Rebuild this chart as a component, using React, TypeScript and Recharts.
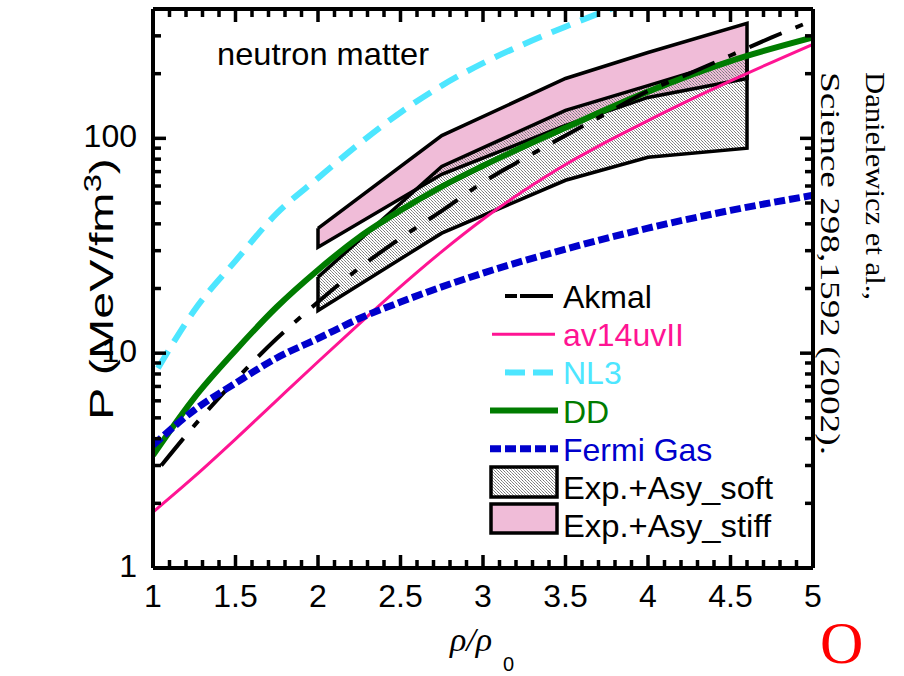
import { ComposedChart, Line, Area, XAxis, YAxis } from 'recharts'

const SANS = '"Liberation Sans", Arial, Helvetica, sans-serif'
const SERIF = '"Liberation Serif", "Times New Roman", serif'

// pressure P (MeV/fm^3) vs rho/rho0
const akmalX = [1.05, 1.25, 1.5, 1.75, 2, 2.25, 2.5, 2.75, 3, 3.25, 3.5, 3.75, 4, 4.25, 4.5, 4.75, 5]
const akmalP = [3.0, 4.6, 7.5, 11.7, 17.3, 24.9, 34.3, 46, 62.4, 80.7, 103, 131, 166, 200, 243, 295, 354]

const av14X = [1, 1.25, 1.5, 1.75, 2, 2.25, 2.5, 2.75, 3, 3.5, 4, 4.5, 5]
const av14P = [1.82, 2.66, 3.98, 6.03, 9.12, 13.7, 20.4, 29.7, 42.0, 75.5, 121, 185, 274]

const nl3X = [1.03, 1.25, 1.5, 1.75, 2, 2.25, 2.5, 2.75, 3, 3.25, 3.5, 3.75, 4]
const nl3P = [8.5, 15.8, 26.9, 44.7, 65.3, 94.4, 132, 176, 224, 275, 331, 394, 462]

const ddX = [1, 1.25, 1.5, 1.75, 2, 2.25, 2.5, 2.75, 3, 3.5, 4, 4.5, 5]
const ddP = [3.35, 6.2, 10.3, 16.4, 24.4, 34.7, 46.2, 59.6, 74.5, 112, 165, 229, 295]

const fermiX = [1, 1.25, 1.5, 1.75, 2, 2.25, 2.5, 3, 3.5, 4, 4.5, 5]
const fermiP = [3.73, 5.43, 7.25, 9.5, 11.7, 14.5, 17.3, 23.6, 30.5, 38.2, 46.2, 54.3]

// flow constraint bands (Danielewicz et al.)
const bandX = [2, 2.75, 3.5, 4, 4.6]
const softLo = [15.8, 36.2, 63.8, 81.6, 90]
const softHi = [22.6, 74, 135, 176, 243]
const stiffLo = [31.1, 68, 115, 155, 190]
const stiffHi = [38.1, 103, 190, 251, 343]

const X_MIN = 1
const X_MAX = 5
const P_MIN = 1
const P_MAX = 400
const xMajor = [1, 1.5, 2, 2.5, 3, 3.5, 4, 4.5, 5]
const xMinor = [
  1.1, 1.2, 1.3, 1.4, 1.6, 1.7, 1.8, 1.9, 2.1, 2.2, 2.3, 2.4, 2.6, 2.7, 2.8, 2.9,
  3.1, 3.2, 3.3, 3.4, 3.6, 3.7, 3.8, 3.9, 4.1, 4.2, 4.3, 4.4, 4.6, 4.7, 4.8, 4.9,
]
const yMajor = [1, 10, 100]
const yMinor = [2, 3, 4, 5, 6, 7, 8, 9, 20, 30, 40, 50, 60, 70, 80, 90, 200, 300]

const W = 904
const H = 676
const PLOT = { left: 153, top: 9, right: 813, bottom: 568 }

const COLORS = {
  akmal: '#000000',
  av14: '#ff1493',
  nl3: '#4de6ff',
  dd: '#007c00',
  fermi: '#0000cc',
  stiff: '#f0bcd8',
}

const zip = (xs: number[], ys: number[]) => xs.map((x, i) => ({ x, p: ys[i] }))
const bandFill = (lo: number[], hi: number[]) => bandX.map((x, i) => ({ x, range: [lo[i], hi[i]] }))
const bandEdge = (lo: number[], hi: number[]) => [
  ...zip(bandX, hi),
  ...zip(bandX, lo).reverse(),
  { x: bandX[0], p: hi[0] },
]

// same mapping as the chart axes, used for the inward tick marks on the frame
const sx = (v: number) => PLOT.left + ((v - X_MIN) / (X_MAX - X_MIN)) * (PLOT.right - PLOT.left)
const sy = (v: number) =>
  PLOT.bottom - (Math.log10(v / P_MIN) / Math.log10(P_MAX / P_MIN)) * (PLOT.bottom - PLOT.top)

function xLabel(p: any) {
  return (
    <text x={p.x} y={Number(p.y) + 39} textAnchor="middle" fontSize={32} fontFamily={SANS} fill="#000">
      {p.payload.value}
    </text>
  )
}

function yLabel(p: any) {
  return (
    <text x={Number(p.x) - 16} y={Number(p.y) + 9} textAnchor="end" fontSize={32} fontFamily={SANS} fill="#000">
      {p.payload.value}
    </text>
  )
}

function FrameTicks() {
  const t = 3.5
  const marks: any[] = []
  const xt = (v: number, len: number) => {
    const x = sx(v) - t / 2
    marks.push(<rect key={`b${v}`} x={x} y={PLOT.bottom - len} width={t} height={len} />)
    marks.push(<rect key={`t${v}`} x={x} y={PLOT.top} width={t} height={len} />)
  }
  const yt = (v: number, len: number) => {
    const y = sy(v) - t / 2
    marks.push(<rect key={`l${v}`} x={PLOT.left} y={y} width={len} height={t} />)
    marks.push(<rect key={`r${v}`} x={PLOT.right - len} y={y} width={len} height={t} />)
  }
  xMajor.forEach((v) => xt(v, 13))
  xMinor.forEach((v) => xt(v, 8))
  yMajor.forEach((v) => yt(v, 13))
  yMinor.forEach((v) => yt(v, 8))
  return <g fill="#000">{marks}</g>
}

const legendRows = [
  { name: 'Akmal', color: COLORS.akmal, dash: '12 3 33', width: 4, x1: 505, x2: 553 },
  { name: 'av14uvII', color: COLORS.av14, dash: undefined, width: 3, x1: 492, x2: 555 },
  { name: 'NL3', color: COLORS.nl3, dash: '20 8', width: 6, x1: 505, x2: 555 },
  { name: 'DD', color: COLORS.dd, dash: undefined, width: 6, x1: 490, x2: 558 },
  { name: 'Fermi Gas', color: COLORS.fermi, dash: '11 4', width: 7, x1: 490, x2: 558 },
]

function Overlay() {
  return (
    <svg
      width={W}
      height={H}
      style={{ position: 'absolute', left: 0, top: 0, pointerEvents: 'none' }}
      fontFamily={SANS}
    >
      <defs>
        <pattern id="hatchLegend" width="3" height="3" patternUnits="userSpaceOnUse">
          <rect width="3" height="3" fill="#fff" />
          <rect x="0" y="0" width="1" height="1" fill="#777" />
          <rect x="1" y="1" width="1" height="1" fill="#999" />
          <rect x="2" y="2" width="1" height="1" fill="#888" />
        </pattern>
      </defs>
      <FrameTicks />
      <text x={217} y={65} fontSize={32} textLength={212} lengthAdjust="spacingAndGlyphs">neutron matter</text>
      <text
        transform="translate(113 289) rotate(-90)"
        textAnchor="middle"
        fontSize={34}
        textLength={262}
        lengthAdjust="spacingAndGlyphs"
      >
        P (MeV/fm<tspan dy={-12} fontSize={23}>3</tspan>
        <tspan dy={12}>)</tspan>
      </text>
      <text x={450} y={651} fontFamily={SERIF} fontStyle="italic" fontSize={34}>ρ/ρ</text>
      <text x={503} y={671} fontSize={20}>0</text>

      {legendRows.map((r, i) => {
        const base = 308 + i * 38.2
        return (
          <g key={r.name}>
            <line x1={r.x1} x2={r.x2} y1={base - 12} y2={base - 12} stroke={r.color} strokeWidth={r.width} strokeDasharray={r.dash} />
            <text x={563} y={base} fontSize={32} fill={r.color}>{r.name}</text>
          </g>
        )
      })}
      <rect x={491} y={467} width={66} height={30} fill="url(#hatchLegend)" stroke="#000" strokeWidth={3.5} />
      <text x={563} y={499} fontSize={32} textLength={210} lengthAdjust="spacingAndGlyphs">Exp.+Asy_soft</text>
      <rect x={491} y={504} width={66} height={29} fill={COLORS.stiff} stroke="#000" strokeWidth={3.5} />
      <text x={563} y={537} fontSize={32} textLength={208} lengthAdjust="spacingAndGlyphs">Exp.+Asy_stiff</text>

      <text transform="translate(866 72) rotate(90)" fontFamily={SERIF} fontSize={28} textLength={228} lengthAdjust="spacingAndGlyphs">
        Danielewicz et al.,
      </text>
      <text transform="translate(821 72) rotate(90)" fontFamily={SERIF} fontSize={28} textLength={383} lengthAdjust="spacingAndGlyphs">
        Science 298,1592 (2002).
      </text>
      <text x={820} y={663} fontFamily={SERIF} fontSize={60} fill="#ff0000">O</text>
    </svg>
  )
}

export default function App() {
  const common = { xAxisId: 'b', yAxisId: 'l', dataKey: 'p', dot: false, activeDot: false, isAnimationActive: false } as const
  const frame = { stroke: '#000', strokeWidth: 4 }
  return (
    <div style={{ position: 'absolute', left: 0, top: 0, width: W, height: H, background: '#fff' }}>
      <ComposedChart width={W} height={H} margin={{ top: 0, right: 0, bottom: 0, left: 0 }}>
        <defs>
          <pattern id="hatch" width="3" height="3" patternUnits="userSpaceOnUse">
            <rect x="0" y="0" width="1" height="1" fill="#777" />
            <rect x="1" y="1" width="1" height="1" fill="#999" />
            <rect x="2" y="2" width="1" height="1" fill="#888" />
          </pattern>
        </defs>
        <XAxis
          xAxisId="b"
          dataKey="x"
          type="number"
          domain={[X_MIN, X_MAX]}
          ticks={xMajor}
          interval={0}
          allowDataOverflow
          height={H - PLOT.bottom}
          tickSize={0}
          tickMargin={0}
          tickLine={false}
          axisLine={frame}
          tick={xLabel}
        />
        <XAxis
          xAxisId="t"
          orientation="top"
          dataKey="x"
          type="number"
          domain={[X_MIN, X_MAX]}
          allowDataOverflow
          height={PLOT.top}
          tickLine={false}
          tick={false}
          axisLine={frame}
        />
        <YAxis
          yAxisId="l"
          type="number"
          scale="log"
          domain={[P_MIN, P_MAX]}
          ticks={yMajor}
          interval={0}
          allowDataOverflow
          width={PLOT.left}
          tickSize={0}
          tickMargin={0}
          tickLine={false}
          axisLine={frame}
          tick={yLabel}
        />
        <YAxis
          yAxisId="r"
          orientation="right"
          type="number"
          scale="log"
          domain={[P_MIN, P_MAX]}
          allowDataOverflow
          width={W - PLOT.right}
          tickLine={false}
          tick={false}
          axisLine={frame}
        />

        <Area
          xAxisId="b"
          yAxisId="l"
          data={bandFill(stiffLo, stiffHi)}
          dataKey="range"
          type="linear"
          fill={COLORS.stiff}
          fillOpacity={1}
          stroke="none"
          isAnimationActive={false}
          activeDot={false}
        />
        <Area
          xAxisId="b"
          yAxisId="l"
          data={bandFill(softLo, softHi)}
          dataKey="range"
          type="linear"
          fill="url(#hatch)"
          fillOpacity={1}
          stroke="none"
          isAnimationActive={false}
          activeDot={false}
        />
        <Line {...common} data={bandEdge(stiffLo, stiffHi)} type="linear" stroke="#000" strokeWidth={3.5} />
        <Line {...common} data={bandEdge(softLo, softHi)} type="linear" stroke="#000" strokeWidth={3.5} />

        <Line {...common} data={zip(av14X, av14P)} type="monotone" stroke={COLORS.av14} strokeWidth={3} />
        <Line {...common} data={zip(nl3X, nl3P)} type="monotone" stroke={COLORS.nl3} strokeWidth={6} strokeDasharray="20 11" />
        <Line {...common} data={zip(ddX, ddP)} type="monotone" stroke={COLORS.dd} strokeWidth={6} />
        <Line {...common} data={zip(akmalX, akmalP)} type="monotone" stroke={COLORS.akmal} strokeWidth={4} strokeDasharray="35 15 8 15" />
        <Line {...common} data={zip(fermiX, fermiP)} type="monotone" stroke={COLORS.fermi} strokeWidth={7} strokeDasharray="11 4" />
      </ComposedChart>
      <Overlay />
    </div>
  )
}
